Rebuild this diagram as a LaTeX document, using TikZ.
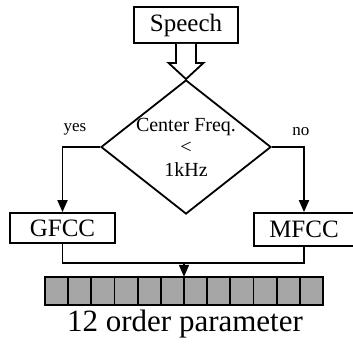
\documentclass[tikz,border=0pt]{standalone}
\usepackage{fontspec}
\setmainfont{Liberation Serif}
\usetikzlibrary{positioning, calc, shapes.geometric, arrows.meta}

\begin{document}
\begin{tikzpicture}[x=1pt, y=-1pt]
        \tikzstyle{box}=[draw=black, line width=1.8pt, inner sep=0pt, font=\fontsize{25}{25}\selectfont];
        \tikzstyle{cond}=[diamond, draw=black, line width=1.8pt, minimum width=170pt, minimum height=134pt, inner sep=0pt];
        \tikzstyle{flow}=[line width=1.8pt, -{Triangle[length=12pt, width=10pt]}];
        \tikzstyle{cell}=[draw=black, line width=1.8pt, fill=black!35, minimum width=23.17pt, minimum height=28pt, inner sep=0pt];
        \tikzstyle{lbl}=[inner sep=0pt, font=\fontsize{17}{17}\selectfont];

        \useasboundingbox (0, 0) rectangle (353, 360);

        \node[box, minimum width=104pt, minimum height=36pt] (speech) at (186, 25) {Speech};
        \node[cond] (freq) at (186, 147) {};
        \node[align=center, inner sep=0pt, font=\fontsize{20}{22.5}\selectfont] (freqtext) at (freq) {Center Freq.\\<\\1kHz};

        \node[lbl] (yes) at (75, 129) {yes};
        \node[lbl] (no) at (301, 132) {no};

        \node[box, minimum width=105pt, minimum height=30pt] (gfcc) at (62.5, 228) {GFCC};
        \node[box, minimum width=100pt, minimum height=33pt] (mfcc) at (304, 229.5) {MFCC};

        % hollow arrow from the speech box into the test
        \draw[line width=1.8pt, fill=white] ($(speech.south)+(-10, 0)$) -- ++(0, 19) -- ++(-7.5, 0)
            -- (freq.north) -- ($(speech.south)+(17.5, 19)$) -- ++(-7.5, 0) -- ($(speech.south)+(10, 0)$);

        \draw[flow] (freq.west) -| (gfcc.north);
        \draw[flow] (freq.east) -| (mfcc.north);

        % 12 cells of the parameter vector
        \foreach \i in {1,...,12}
            \node[cell] (c\i) at ({45 + 23.17*(\i - 0.5)}, 291) {};
        \node[inner sep=0pt, minimum width=278pt, minimum height=28pt] (params) at (184, 291) {};

        \coordinate (merge) at (184, 263);
        \draw[line width=1.8pt] (gfcc.south) |- (merge) -| (mfcc.south);
        \draw[flow] (merge) -- (params.north);

        \node[inner sep=0pt, font=\fontsize{31}{31}\selectfont] (order) at (185, 324) {12 order parameter};
\end{tikzpicture}
\end{document}
